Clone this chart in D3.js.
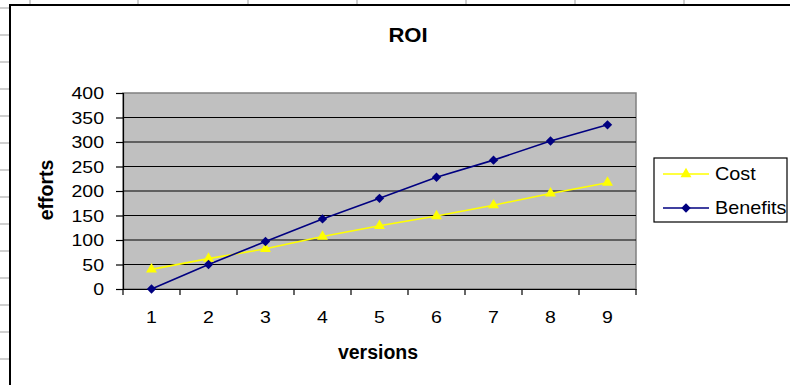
<!DOCTYPE html>
<html><head><meta charset="utf-8">
<script src="https://cdn.jsdelivr.net/npm/d3@7"></script>
<style>
html,body{margin:0;padding:0;background:#fff;}
svg{display:block;font-family:"Liberation Sans",Arial,sans-serif;}
</style></head>
<body>
<svg id="c" width="790" height="385"></svg>
<script>
const categories = ["1","2","3","4","5","6","7","8","9"];
const costValues = [40, 62, 82, 107, 129, 149, 171, 195, 217];
const benefitValues = [0, 50, 97, 143, 185, 228, 263, 302, 335];
const yTickValues = [0, 50, 100, 150, 200, 250, 300, 350, 400];
const seriesNames = ["Cost", "Benefits"];
const chartTitle = "ROI";
const xTitle = "versions";
const yTitle = "efforts";

(function() {
const svg = d3.select("#c");

// spreadsheet background grid
const sheetCols = [30, 138, 248, 357, 466, 575, 684];
const sheetRows = d3.range(8, 385, 27);
svg.append("g").selectAll("line").data(sheetCols).join("line")
  .attr("x1", d => d).attr("x2", d => d).attr("y1", 0).attr("y2", 385)
  .attr("stroke", "#cfcfcf").attr("stroke-width", 2);
svg.append("g").selectAll("line").data(sheetRows).join("line")
  .attr("x1", 0).attr("x2", 790).attr("y1", d => d).attr("y2", d => d)
  .attr("stroke", "#cfcfcf").attr("stroke-width", 2);

// chart area
svg.append("rect").attr("x", 10).attr("y", 5).attr("width", 800).attr("height", 400)
  .attr("fill", "#fff").attr("stroke", "#000").attr("stroke-width", 2);

const pL = 123, pR = 636, pT = 93, pB = 289;
const x = d3.scaleBand().domain(categories).range([pL, pR]);
const y = d3.scaleLinear().domain([0, 400]).range([pB, pT]);

// plot background
svg.append("rect").attr("x", pL).attr("y", pT).attr("width", pR - pL).attr("height", pB - pT)
  .attr("fill", "#c0c0c0").attr("stroke", "#808080").attr("stroke-width", 1.5);

// gridlines
svg.append("g").selectAll("line").data(yTickValues.filter(v => v > 0 && v < 400)).join("line")
  .attr("x1", pL).attr("x2", pR).attr("y1", d => y(d)).attr("y2", d => y(d))
  .attr("stroke", "#000").attr("stroke-width", 1.2);

// y axis
const yAxis = d3.axisLeft(y).tickValues(yTickValues).tickSize(7).tickPadding(11);
const gy = svg.append("g").attr("transform", `translate(${pL},0)`).call(yAxis);
gy.select(".domain").attr("stroke", "#000").attr("stroke-width", 1.2);
gy.selectAll(".tick line").attr("stroke", "#000").attr("stroke-width", 1.2);
gy.selectAll(".tick text").attr("font-size", 16).attr("fill", "#000")
  .attr("font-family", "Liberation Sans, Arial, sans-serif")
  .each(function() {
    const t = d3.select(this);
    t.attr("x", null).attr("dy", "0.35em").attr("text-anchor", "end")
     .attr("transform", "translate(-19,0) scale(1.22,1)");
  });

// x axis with ticks between categories
const xAxis = d3.axisBottom(x).tickSize(0).tickPadding(23);
const gx = svg.append("g").attr("transform", `translate(0,${pB})`).call(xAxis);
gx.select(".domain").attr("stroke", "#000").attr("stroke-width", 1.2);
gx.selectAll(".tick text").attr("font-size", 16).attr("fill", "#000")
  .attr("font-family", "Liberation Sans, Arial, sans-serif")
  .each(function() {
    const t = d3.select(this);
    const yy = +t.attr("y");
    t.attr("y", null).attr("dy", "0.71em").attr("transform", `translate(0,${yy}) scale(1.22,1)`);
  });
const bounds = categories.map(c => x(c)).concat([x(categories[categories.length - 1]) + x.bandwidth()]);
gx.append("g").selectAll("line").data(bounds).join("line")
  .attr("x1", d => d).attr("x2", d => d).attr("y1", 0).attr("y2", 6)
  .attr("stroke", "#000").attr("stroke-width", 1.2);

const cx = c => x(c) + x.bandwidth() / 2;

const line = d3.line().x(d => cx(d.c)).y(d => y(d.v));
const costData = categories.map((c, i) => ({c, v: costValues[i]}));
const benData = categories.map((c, i) => ({c, v: benefitValues[i]}));

const tri = d3.symbol().type(d3.symbolTriangle).size(52);
const dia = d3.symbol().type(d3.symbolSquare).size(44);

svg.append("path").datum(costData).attr("d", line).attr("fill", "none")
  .attr("stroke", "#ffff00").attr("stroke-width", 1.6);
svg.append("path").datum(benData).attr("d", line).attr("fill", "none")
  .attr("stroke", "#000080").attr("stroke-width", 1.6);
svg.append("g").selectAll("path").data(costData).join("path")
  .attr("d", tri).attr("transform", d => `translate(${cx(d.c)},${y(d.v)})`).attr("fill", "#ffff00");
svg.append("g").selectAll("path").data(benData).join("path")
  .attr("d", dia).attr("transform", d => `translate(${cx(d.c)},${y(d.v)}) rotate(45)`).attr("fill", "#000080");

// titles
svg.append("text").attr("transform", "translate(408,42) scale(1.05,1)").attr("text-anchor", "middle")
  .attr("font-size", 21).attr("font-weight", "bold").text(chartTitle);
svg.append("text").attr("x", 378).attr("y", 359).attr("text-anchor", "middle")
  .attr("font-size", 19.5).attr("font-weight", "bold").text(xTitle);
svg.append("text").attr("transform", "translate(53,190) rotate(-90)").attr("text-anchor", "middle")
  .attr("font-size", 19.5).attr("font-weight", "bold").text(yTitle);

// legend
const lg = svg.append("g");
lg.append("rect").attr("x", 654).attr("y", 158).attr("width", 133).attr("height", 64)
  .attr("fill", "#fff").attr("stroke", "#000").attr("stroke-width", 1.2);
const legendItems = [
  {name: seriesNames[0], color: "#ffff00", sym: tri, rot: 0, y: 174},
  {name: seriesNames[1], color: "#000080", sym: dia, rot: 45, y: 208}
];
legendItems.forEach(it => {
  lg.append("line").attr("x1", 663).attr("x2", 709).attr("y1", it.y).attr("y2", it.y)
    .attr("stroke", it.color).attr("stroke-width", 1.6);
  lg.append("path").attr("d", it.sym).attr("transform", `translate(686,${it.y}) rotate(${it.rot})`).attr("fill", it.color);
  lg.append("text").attr("transform", `translate(715,${it.y}) scale(1.1,1)`).attr("dy", "0.35em")
    .attr("font-size", 18).text(it.name);
});
})();
</script>
</body></html>
